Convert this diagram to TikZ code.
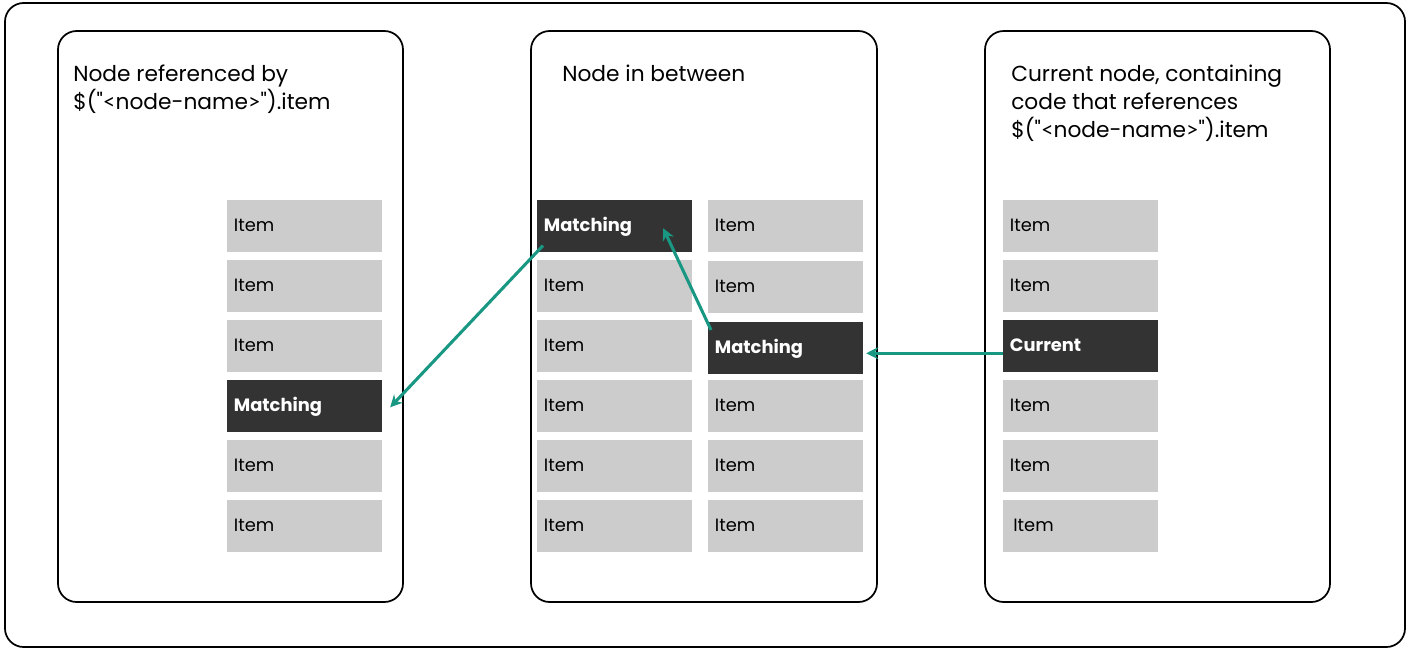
\documentclass[tikz,border=0pt]{standalone}
\usepackage{fontspec}
\setmainfont{Poppins}[Ligatures=TeXOff]
\newfontfamily\brk{Lato}[Ligatures=TeXOff]
\usetikzlibrary{arrows.meta,calc}
\definecolor{itemgray}{HTML}{CCCCCC}
\definecolor{itemdark}{HTML}{333333}
\definecolor{teal}{RGB}{24,152,130}
\newcommand{\noderef}{\$("{\brk <}node-name{\brk >}").item}
\tikzset{
  frame/.style={draw=black, line width=1.3pt, rounded corners=14pt},
  panel/.style={draw=black, line width=1.3pt, rounded corners=14pt},
  item/.style={fill=itemgray, draw=none, minimum height=39pt, text width=106pt,
    text height=10.6pt, text depth=2.2pt,
    inner xsep=5pt, inner ysep=0pt, align=left, anchor=north west,
    font=\fontsize{13.4}{15}\selectfont, text=black},
  hit/.style={item, fill=itemdark, text=white, font=\fontsize{13.4}{15}\selectfont\bfseries},
  title/.style={anchor=north west, inner sep=0pt, align=left,
    font=\fontsize{16.3}{21}\selectfont},
  conn/.style={draw=teal, line width=2.3pt, -{Stealth[length=9pt,width=9pt,inset=3pt]}}
}
\begin{document}
\begin{tikzpicture}[x=0.75pt,y=-0.75pt]
\useasboundingbox (0,0) rectangle (1408,650);
\draw[frame] (5,3) rectangle (1405,647);
% panels
\draw[panel] (58,31) rectangle (403,602);
\draw[panel] (531,31) rectangle (877,602);
\draw[panel] (985,31) rectangle (1330,602);
% titles
\node[title] (t1) at (73,65) {Node referenced by\\\noderef};
\node[title] (t2) at (562,65) {Node in between};
\node[title] (t3) at (1011,65) {Current node, containing\\code that references\\\noderef};
% left column
\node[item] (L1) at (227,200) {Item};
\node[item] (L2) at (227,260) {Item};
\node[item] (L3) at (227,320) {Item};
\node[hit]  (L4) at (227,380) {Matching};
\node[item] (L5) at (227,440) {Item};
\node[item] (L6) at (227,500) {Item};
% middle, left column
\node[hit]  (A1) at (537,200) {Matching};
\node[item] (A2) at (537,260) {Item};
\node[item] (A3) at (537,320) {Item};
\node[item] (A4) at (537,380) {Item};
\node[item] (A5) at (537,440) {Item};
\node[item] (A6) at (537,500) {Item};
% middle, right column
\node[item] (B1) at (708,200) {Item};
\node[item] (B2) at (708,261) {Item};
\node[hit]  (B3) at (708,322) {Matching};
\node[item] (B4) at (708,380) {Item};
\node[item] (B5) at (708,440) {Item};
\node[item] (B6) at (708,500) {Item};
% right column
\node[item] (C1) at (1003,200) {Item};
\node[item] (C2) at (1003,260) {Item};
\node[hit]  (C3) at (1003,320) {Current};
\node[item] (C4) at (1003,380) {Item};
\node[item] (C5) at (1003,440) {Item};
\node[item] (C6) at (1003,500) {\hspace*{2.5pt}Item};
% connectors
\draw[conn] ($(A1.south west)+(6,-7)$) -- ($(L4.east)+(8,1)$);
\draw[conn] ($(B3.north west)+(3,8)$) -- ($(A1.east)+(-29,2)$);
\draw[conn] ($(C3.west)+(0,7)$) -- ($(B3.east)+(3,5)$);
\end{tikzpicture}
\end{document}
